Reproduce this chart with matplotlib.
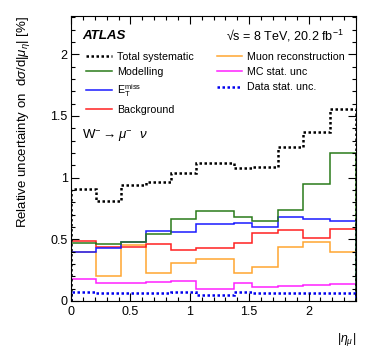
import matplotlib
matplotlib.use("Agg")
import matplotlib.pyplot as plt
from matplotlib.lines import Line2D
from matplotlib.ticker import MultipleLocator

plt.rcParams['font.family'] = ['Liberation Sans', 'DejaVu Sans']
plt.rcParams['mathtext.fontset'] = 'custom'
plt.rcParams['mathtext.rm'] = 'Liberation Sans'
plt.rcParams['mathtext.it'] = 'Liberation Sans:italic'

# bin edges in |eta_mu|
edges = [0, 0.21, 0.42, 0.63, 0.84, 1.05, 1.37, 1.52, 1.74, 1.95, 2.18, 2.4]

total_syst = [0.905, 0.813, 0.941, 0.962, 1.036, 1.115, 1.080, 1.088, 1.245, 1.372, 1.553]
modelling = [0.466, 0.458, 0.479, 0.546, 0.666, 0.733, 0.682, 0.644, 0.736, 0.948, 1.200]
met = [0.398, 0.430, 0.479, 0.566, 0.555, 0.620, 0.628, 0.600, 0.677, 0.663, 0.647]
background = [0.485, 0.438, 0.438, 0.458, 0.410, 0.430, 0.466, 0.547, 0.574, 0.506, 0.580]
muon_reco = [0.398, 0.200, 0.452, 0.227, 0.303, 0.336, 0.227, 0.276, 0.433, 0.479, 0.398]
mc_stat = [0.181, 0.146, 0.141, 0.154, 0.160, 0.097, 0.141, 0.114, 0.119, 0.127, 0.133]
data_stat = [0.073, 0.060, 0.060, 0.065, 0.068, 0.044, 0.070, 0.060, 0.060, 0.060, 0.060]

c_green = '#2a7a1a'
c_blue = '#1a1aff'
c_red = '#ff2020'
c_orange = '#ffa530'
c_magenta = '#ff20ff'

fig = plt.figure(figsize=(3.74, 3.59), dpi=100)
ax = fig.add_axes([0.19, 0.162, 0.762, 0.793])

ax.stairs(muon_reco, edges, color=c_orange, lw=1.1)
ax.stairs(mc_stat, edges, color=c_magenta, lw=1.1)
ax.stairs(background, edges, color=c_red, lw=1.1)
ax.stairs(met, edges, color=c_blue, lw=1.1)
ax.stairs(modelling, edges, color=c_green, lw=1.1)
ax.stairs(data_stat, edges, color='#0000ee', lw=1.8, linestyle=(0, (1, 1)))
ax.stairs(total_syst, edges, color='black', lw=1.8, linestyle=(0, (1, 1)))

ax.set_xlim(0, 2.4)
ax.set_ylim(0, 2.31)
ax.xaxis.set_minor_locator(MultipleLocator(0.1))
ax.yaxis.set_minor_locator(MultipleLocator(0.1))
ax.set_xticks([0, 0.5, 1, 1.5, 2])
ax.set_xticklabels(['0', '0.5', '1', '1.5', '2'])
ax.set_yticks([0, 0.5, 1, 1.5, 2])
ax.set_yticklabels(['0', '0.5', '1', '1.5', '2'])
ax.tick_params(which='both', direction='in', top=True, right=True, labelsize=9, width=0.8)
ax.tick_params(which='major', length=6)
ax.tick_params(which='minor', length=3)
ax.tick_params(axis='x', pad=4)
ax.tick_params(axis='y', pad=2.5)
for s in ax.spines.values():
    s.set_linewidth(0.8)

ax.set_xlabel(r'|$\eta_\mu$|', loc='right', fontsize=8.8, labelpad=9)
ax.set_ylabel(r'Relative uncertainty on  d$\sigma$/d|$\mu_\eta$| [%]', loc='top', fontsize=9.5, labelpad=13)

ax.text(0.04, 0.93, 'ATLAS', transform=ax.transAxes, fontsize=9.6,
        fontweight='bold', fontstyle='italic', va='center', ha='left')
ax.text(0.955, 0.93, '\u221as = 8 TeV, 20.2 fb$^{-1}$', transform=ax.transAxes,
        fontsize=9, va='center', ha='right')
ax.text(0.04, 0.582, r'W$^{-}\rightarrow\mu^{-}$  $\nu$', transform=ax.transAxes,
        fontsize=9.5, va='center', ha='left')

left_handles = [
    Line2D([], [], color='black', lw=1.8, linestyle=(0, (1, 1))),
    Line2D([], [], color=c_green, lw=1.1),
    Line2D([], [], color=c_blue, lw=1.1),
    Line2D([], [], color=c_red, lw=1.1),
]
left_labels = ['Total systematic', 'Modelling', r'E$_{\mathrm{T}}^{\mathrm{miss}}$', 'Background']
right_handles = [
    Line2D([], [], color=c_orange, lw=1.1),
    Line2D([], [], color=c_magenta, lw=1.1),
    Line2D([], [], color='#0000ee', lw=1.8, linestyle=(0, (1, 1))),
]
right_labels = ['Muon reconstruction', 'MC stat. unc', 'Data stat. unc.']

leg_kw = dict(loc='upper left', frameon=False, fontsize=7.7, handlelength=2.35,
              handletextpad=0.5, labelspacing=0.5, borderaxespad=0, borderpad=0)
leg1 = ax.legend(left_handles, left_labels, bbox_to_anchor=(0.054, 0.875), **leg_kw)
ax.add_artist(leg1)
ax.legend(right_handles, right_labels, bbox_to_anchor=(0.511, 0.875), **leg_kw)

fig.savefig('out.png', dpi=100)
